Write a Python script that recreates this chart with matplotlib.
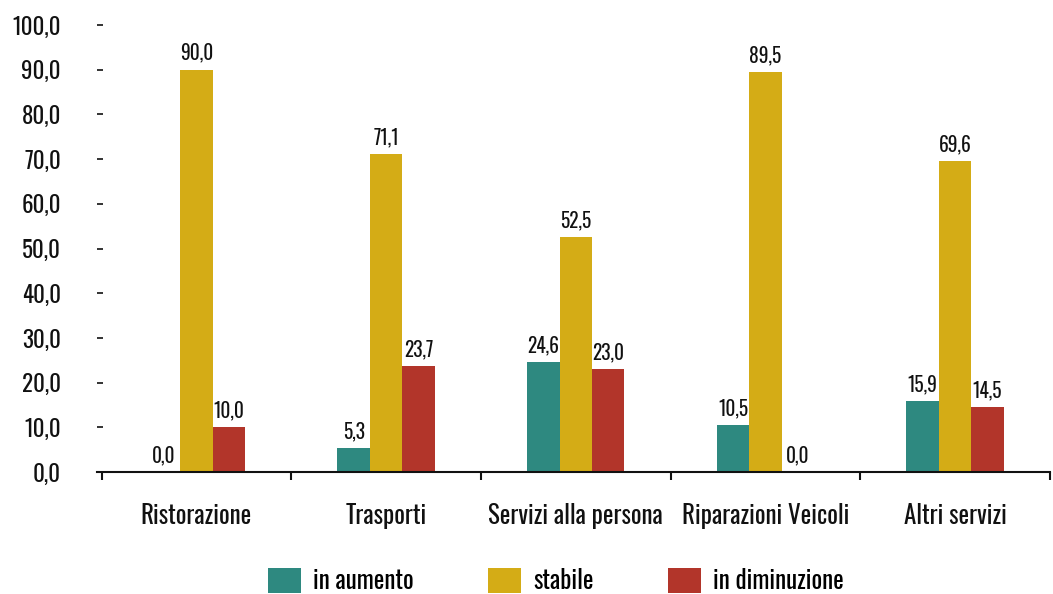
import matplotlib
matplotlib.use("Agg")
import matplotlib.pyplot as plt
import numpy as np
from matplotlib.patches import Patch

categories = ["Ristorazione", "Trasporti", "Servizi alla persona", "Riparazioni Veicoli", "Altri servizi"]
series_names = ["in aumento", "stabile", "in diminuzione"]
in_aumento = [0.0, 5.3, 24.6, 10.5, 15.9]
stabile = [90.0, 71.1, 52.5, 89.5, 69.6]
in_diminuzione = [10.0, 23.7, 23.0, 0.0, 14.5]
colors = ["#2E8980", "#D4AC16", "#B2352A"]
yticks = [0, 10, 20, 30, 40, 50, 60, 70, 80, 90, 100]

plt.rcParams['font.family'] = ['Oswald', 'DejaVu Sans']
plt.rcParams['font.weight'] = 'light'

fig = plt.figure(figsize=(10.53, 5.94), dpi=100)
W, H = 1053, 594
ax = fig.add_axes([97 / W, (H - 472) / H, (1050 - 97) / W, (472 - 25) / H])

x = np.arange(len(categories))
bw = 0.171
series = [in_aumento, stabile, in_diminuzione]
for i, (vals, col) in enumerate(zip(series, colors)):
    pos = x + (i - 1) * bw
    ax.bar(pos, vals, width=bw, color=col, edgecolor='none', zorder=2)
    for p, v in zip(pos, vals):
        ax.annotate(f"{v:.1f}".replace('.', ','), (p, v), xytext=(0, 5),
                    textcoords='offset points', ha='center', va='bottom',
                    fontsize=14, color='#111111')

ax.set_xlim(-0.524, 4.5)
ax.set_ylim(0, 100)
ax.set_yticks(yticks)
ax.set_yticklabels([f"{t:.1f}".replace('.', ',') for t in yticks], fontsize=16.5, color='#111111')
ax.tick_params(axis='y', direction='in', length=4, width=1.2, pad=26, color='#111111')

ax.set_xticks(x)
ax.set_xticklabels(categories, fontsize=18, color='#111111')
ax.set_xticks(np.arange(-0.5, len(categories), 1.0), minor=True)
ax.tick_params(axis='x', which='major', length=0, pad=22)
ax.tick_params(axis='x', which='minor', direction='out', length=6, width=1.5, color='#111111')

for s in ['top', 'right', 'left']:
    ax.spines[s].set_visible(False)
ax.spines['bottom'].set_linewidth(1.5)
ax.spines['bottom'].set_color('#111111')

handles = [Patch(facecolor=c, edgecolor='none') for c in colors]
fig.legend(handles, series_names, loc='lower center', bbox_to_anchor=(0.528, 0.0),
           ncol=3, frameon=False, fontsize=18, handlelength=1.3, handleheight=1.15,
           columnspacing=3.0, handletextpad=0.48, borderpad=0.0, borderaxespad=0.0)

fig.savefig("out.png", dpi=100)
